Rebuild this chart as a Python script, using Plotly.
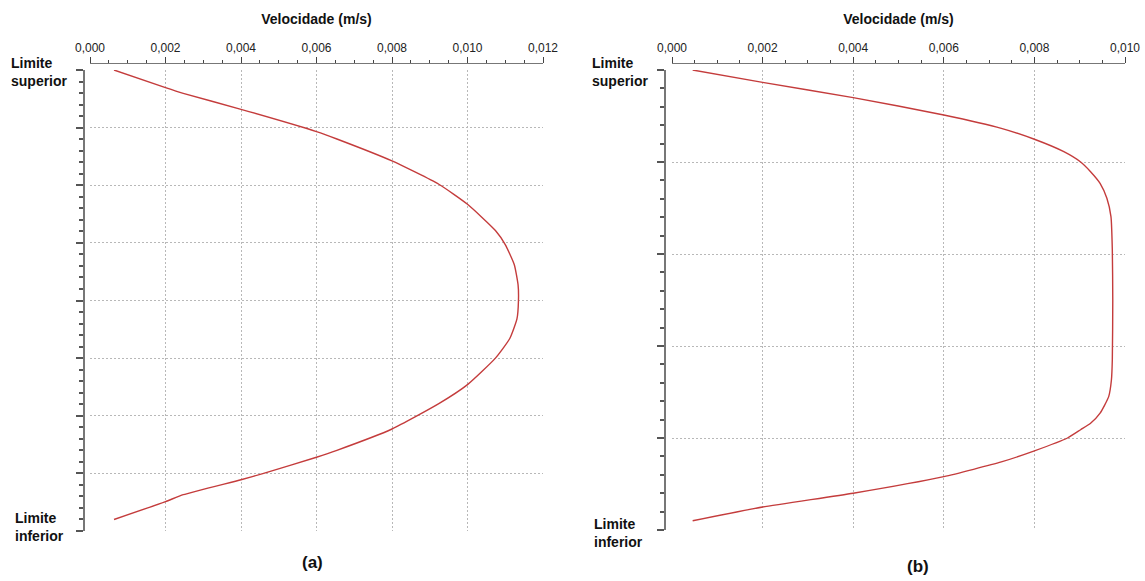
import plotly.graph_objects as go

# Panel (a): velocity (m/s) vs position (0 = lower limit, 8 = upper limit)
vel_a = [0.000636, 0.0020, 0.00247, 0.0040, 0.0060, 0.00654, 0.0080, 0.00924, 0.0100,
         0.01074, 0.0110, 0.01124, 0.01134, 0.01135, 0.01131, 0.01112, 0.01074, 0.0100,
         0.00924, 0.0080, 0.00654, 0.0060, 0.0046, 0.0040, 0.00247, 0.0020, 0.000636]
pos_a = [8.00, 7.694, 7.595, 7.318, 6.931, 6.803, 6.422, 6.017, 5.67,
         5.214, 4.97, 4.62, 4.27, 4.00, 3.68, 3.34, 3.00, 2.54,
         2.21, 1.77, 1.40, 1.28, 1.00, 0.89, 0.63, 0.51, 0.20]

# Panel (b): velocity (m/s) vs position (0 = lower limit, 5 = upper limit)
vel_b = [0.000456, 0.0020, 0.0040, 0.0060, 0.00727, 0.0080, 0.00865, 0.00902, 0.00924,
         0.00945, 0.00960, 0.00969, 0.00972, 0.00973, 0.00972, 0.00970, 0.00964, 0.00945,
         0.00924, 0.00902, 0.00873, 0.0080, 0.00727, 0.0060, 0.0040, 0.0020, 0.000456]
pos_b = [5.00, 4.866, 4.70, 4.511, 4.366, 4.247, 4.112, 4.00, 3.895,
         3.768, 3.605, 3.406, 3.043, 2.50, 1.85, 1.63, 1.45, 1.27,
         1.16, 1.09, 1.00, 0.86, 0.74, 0.58, 0.40, 0.25, 0.10]

x_title = "Velocidade (m/s)"
top_label = "Limite<br>superior"
bottom_label = "Limite<br>inferior"
panel_labels = ["(a)", "(b)"]

W, H = 1145, 581
def px(x): return x / W
def py(y): return 1 - y / H

LINE = "#c43c3c"
GRID = "#b8b8b8"
AX = "#777777"
FONT = "Liberation Sans, Arial, sans-serif"

fig = go.Figure()
fig.add_trace(go.Scatter(x=vel_a, y=pos_a, mode="lines",
                         line=dict(color=LINE, width=1.4, shape="spline", smoothing=0.5),
                         xaxis="x", yaxis="y", showlegend=False, hoverinfo="skip"))
fig.add_trace(go.Scatter(x=vel_b, y=pos_b, mode="lines",
                         line=dict(color=LINE, width=1.4, shape="spline", smoothing=0.5),
                         xaxis="x2", yaxis="y2", showlegend=False, hoverinfo="skip"))

def xaxis_cfg(rng, dom, ypos_px):
    return dict(
        range=rng, domain=dom, side="top", anchor="free", position=py(ypos_px),
        automargin=False,
        dtick=0.002, tick0=0, tickformat=".3f", ticks="outside", ticklen=6, tickwidth=1,
        tickcolor="#444", showline=True, linecolor=AX, linewidth=1,
        showgrid=True, gridcolor=GRID, griddash="2px,2px", gridwidth=1, zeroline=False,
        minor=dict(dtick=0.0005, ticks="outside", ticklen=3, tickcolor="#444", showgrid=False),
        tickfont=dict(family=FONT, size=12, color="#222"),
        title=dict(text="<b>" + x_title + "</b>",
                   font=dict(family=FONT, size=14, color="#111"), standoff=12),
        fixedrange=True,
    )

def yaxis_cfg(rng, dom, xpos_px):
    return dict(
        range=rng, domain=dom, anchor="free", position=px(xpos_px),
        automargin=False,
        dtick=1, tick0=0, ticks="outside", ticklen=7, tickwidth=1.5, tickcolor="#555",
        showticklabels=False, showline=True, linecolor=AX, linewidth=1.5,
        showgrid=True, gridcolor=GRID, griddash="2px,2px", gridwidth=1, zeroline=False,
        minor=dict(dtick=0.2, ticks="outside", ticklen=4, tickcolor="#555", showgrid=False),
        fixedrange=True,
    )

fig.update_layout(
    width=W, height=H, margin=dict(l=0, r=0, t=0, b=0, autoexpand=False),
    paper_bgcolor="white", plot_bgcolor="white",
    separators=", ",
    font=dict(family=FONT, color="#111"),
    xaxis=xaxis_cfg([0, 0.012], [px(90), px(543)], 63),
    yaxis=yaxis_cfg([0, 8], [py(531), py(70)], 84),
    xaxis2=xaxis_cfg([0, 0.010], [px(672), px(1125)], 63),
    yaxis2=yaxis_cfg([0, 5], [py(530), py(70)], 665),
)

ann = []
def lab(text, x, y, size=14, xanchor="left"):
    ann.append(dict(text="<b>" + text + "</b>", x=px(x), y=py(y), xref="paper", yref="paper",
                    xanchor=xanchor, yanchor="middle", showarrow=False, align="left",
                    font=dict(family=FONT, size=size, color="#111")))

lab(top_label, 9, 72)
lab(bottom_label, 13, 527)
lab(top_label, 590, 72)
lab(bottom_label, 592, 533)
lab(panel_labels[0], 312, 562, size=17, xanchor="center")
lab(panel_labels[1], 918, 566, size=17, xanchor="center")
fig.update_layout(annotations=ann)

# remove the default 8px page margin so the 1145x581 figure fills the window exactly
fig.write_html("out.html",
               config={"displayModeBar": False},
               post_script="document.body.style.margin='0';document.body.style.overflow='hidden';")
